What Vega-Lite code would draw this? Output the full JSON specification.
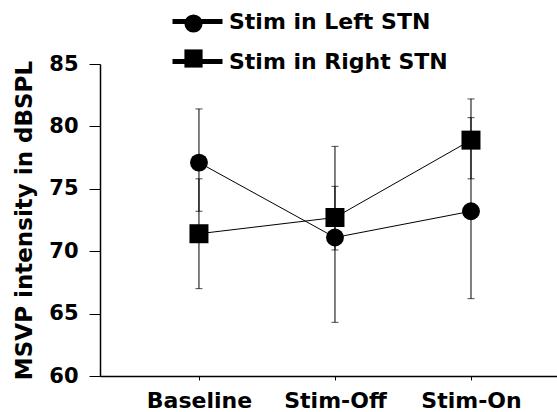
{
  "$schema": "https://vega.github.io/schema/vega-lite/v6.json",
  "width": 457,
  "height": 312,
  "autosize": "none",
  "padding": {"left": 100, "top": 64, "right": 0, "bottom": 36},
  "background": "white",
  "config": {
    "view": {"stroke": null},
    "font": "DejaVu Sans",
    "axis": {"grid": false, "domainColor": "black", "tickColor": "black", "labelColor": "black", "titleColor": "black", "labelFont": "DejaVu Sans", "titleFont": "DejaVu Sans", "labelFontWeight": "bold", "titleFontWeight": "bold"}
  },
  "data": {
    "values": [
      {"condition": "Baseline", "series": "Stim in Left STN", "value": 77.1, "low": 73.2, "high": 81.4},
      {"condition": "Baseline", "series": "Stim in Right STN", "value": 71.4, "low": 67.0, "high": 75.8},
      {"condition": "Stim-Off", "series": "Stim in Left STN", "value": 71.1, "low": 64.3, "high": 78.4},
      {"condition": "Stim-Off", "series": "Stim in Right STN", "value": 72.7, "low": 70.1, "high": 75.2},
      {"condition": "Stim-On", "series": "Stim in Left STN", "value": 73.2, "low": 66.2, "high": 80.7},
      {"condition": "Stim-On", "series": "Stim in Right STN", "value": 78.9, "low": 75.8, "high": 82.2}
    ]
  },
  "encoding": {
    "x": {
      "field": "condition", "type": "nominal", "sort": ["Baseline", "Stim-Off", "Stim-On"],
      "scale": {"type": "point", "padding": 0.68, "align": 0.535},
      "axis": {"title": null, "labelAngle": 0, "tickSize": 4, "tickWidth": 1, "domainWidth": 1.5, "labelFontSize": 22, "labelPadding": 10}
    }
  },
  "layer": [
    {
      "mark": {"type": "rule", "color": "black", "strokeWidth": 1},
      "encoding": {
        "y": {"field": "low", "type": "quantitative", "scale": {"domain": [60, 85], "nice": false, "zero": false},
          "axis": {"title": "MSVP intensity in dBSPL", "values": [60, 65, 70, 75, 80, 85], "tickSize": 11, "tickWidth": 1, "domainWidth": 1.5, "labelFontSize": 21, "labelPadding": 11, "titleFontSize": 23, "titlePadding": 12}},
        "y2": {"field": "high"}
      }
    },
    {
      "mark": {"type": "tick", "color": "black", "thickness": 1, "size": 7},
      "encoding": {"y": {"field": "low", "type": "quantitative"}}
    },
    {
      "mark": {"type": "tick", "color": "black", "thickness": 1, "size": 7},
      "encoding": {"y": {"field": "high", "type": "quantitative"}}
    },
    {
      "mark": {"type": "line", "strokeWidth": 1},
      "encoding": {
        "y": {"field": "value", "type": "quantitative"},
        "color": {"field": "series", "type": "nominal",
          "scale": {"range": ["black", "black"]},
          "legend": {
            "title": null, "orient": "none", "legendX": 70, "legendY": -70, "padding": 0,
            "symbolType": "stroke", "symbolSize": 2500, "symbolStrokeWidth": 5, "symbolStrokeColor": "black",
            "labelFont": "DejaVu Sans", "labelFontWeight": "bold", "labelFontSize": 22, "labelColor": "black", "labelOffset": 4, "rowPadding": 1,
            "labelLimit": 400
          }
        }
      }
    },
    {
      "transform": [{"filter": "datum.series === 'Stim in Left STN'"}],
      "mark": {"type": "point", "filled": true, "color": "black", "opacity": 1, "strokeWidth": 0, "shape": "circle", "size": 320},
      "encoding": {"y": {"field": "value", "type": "quantitative"}}
    },
    {
      "transform": [{"filter": "datum.series === 'Stim in Right STN'"}],
      "mark": {"type": "point", "filled": true, "color": "black", "opacity": 1, "strokeWidth": 0, "shape": "square", "size": 361},
      "encoding": {"y": {"field": "value", "type": "quantitative"}}
    },
    {
      "mark": {"type": "point", "filled": true, "color": "black", "opacity": 0, "size": 330},
      "encoding": {
        "y": {"field": "value", "type": "quantitative"},
        "shape": {"field": "series", "type": "nominal",
          "scale": {"domain": ["Stim in Left STN", "Stim in Right STN"], "range": ["circle", "square"]},
          "legend": {
            "title": null, "orient": "none", "legendX": 84, "legendY": -50, "padding": 0,
            "symbolSize": 330, "symbolOpacity": 1, "symbolStrokeWidth": 0,
            "labelExpr": "''", "labelFontSize": 1, "labelOffset": 0, "rowPadding": 16
          }
        }
      }
    }
  ]
}
